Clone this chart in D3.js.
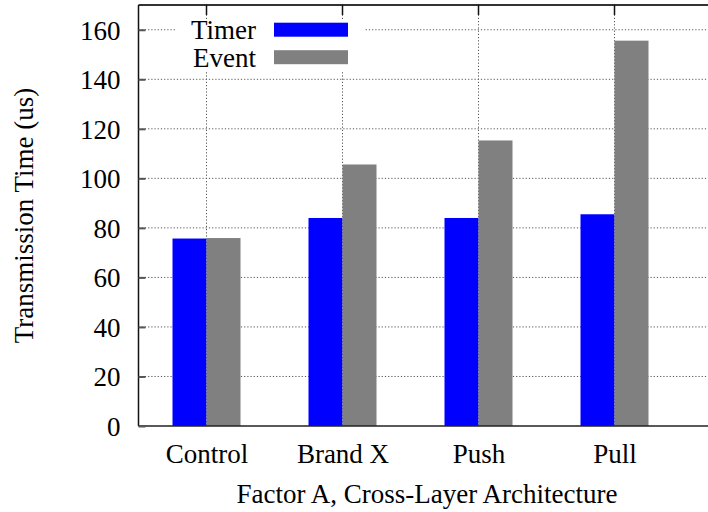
<!DOCTYPE html>
<html>
<head>
<meta charset="utf-8">
<script src="https://cdn.jsdelivr.net/npm/d3@7"></script>
<style>
  body { margin: 0; background: #fff; }
  text { font-family: "Liberation Serif", "Times New Roman", serif; fill: #000; }
</style>
</head>
<body>
<svg id="chart" width="708" height="512"></svg>
<script>
// chart data
var categories = ["Control", "Brand X", "Push", "Pull"];
var seriesNames = ["Timer", "Event"];
var timerValues = [75.7, 84.0, 84.0, 85.5];
var eventValues = [75.9, 105.6, 115.3, 155.6];
var yTicks = [0, 20, 40, 60, 80, 100, 120, 140, 160];
var colors = ["#0000ff", "#808080"];

var svg = d3.select("#chart");
var plotLeft = 138.5, plotTop = 5, plotBottom = 426, plotRight = 716.5;

// x is the category index; gnuplot-style range that runs past the right edge
var x = d3.scaleLinear().domain([-0.5, 3.75]).range([plotLeft, plotRight]);
var y = d3.scaleLinear().domain([0, 170]).range([plotBottom, plotTop]);
var barW = (x(1) - x(0)) * 0.25;

/** dotted grid */
var grid = svg.append("g");
grid.selectAll(".hg").data(yTicks.slice(1)).enter().append("line")
  .attr("x1", plotLeft).attr("x2", plotRight)
  .attr("y1", d => y(d)).attr("y2", d => y(d))
  .attr("stroke", "#555").attr("stroke-width", 1).attr("stroke-dasharray", "1.2,2");
grid.selectAll(".vg").data(categories).enter().append("line")
  .attr("x1", (d, i) => x(i)).attr("x2", (d, i) => x(i))
  .attr("y1", plotTop).attr("y2", plotBottom)
  .attr("stroke", "#555").attr("stroke-width", 1).attr("stroke-dasharray", "1.2,2");

/** bars */
var seriesData = [timerValues, eventValues];
seriesData.forEach(function(vals, s) {
  svg.append("g").selectAll("rect").data(vals).enter().append("rect")
    .attr("x", (d, i) => x(i) + (s === 0 ? -barW : 0))
    .attr("y", d => y(d))
    .attr("width", barW)
    .attr("height", d => plotBottom - y(d))
    .attr("fill", colors[s]);
});

/** axes frame */
svg.append("line").attr("x1", plotLeft).attr("x2", plotRight).attr("y1", plotTop).attr("y2", plotTop)
  .attr("stroke", "#333").attr("stroke-width", 2);
svg.append("line").attr("x1", plotLeft).attr("x2", plotRight).attr("y1", plotBottom).attr("y2", plotBottom)
  .attr("stroke", "#222").attr("stroke-width", 1.5);
svg.append("line").attr("x1", plotLeft).attr("x2", plotLeft).attr("y1", plotTop).attr("y2", plotBottom)
  .attr("stroke", "#111").attr("stroke-width", 1.5);

// y ticks (inward) and labels
var yAxis = d3.axisLeft(y).tickValues(yTicks).tickSizeInner(-7).tickSizeOuter(0).tickPadding(18);
var ya = svg.append("g").attr("transform", "translate(" + plotLeft + ",0)").call(yAxis);
ya.select(".domain").remove();
ya.selectAll(".tick line").attr("stroke", "#555").attr("stroke-width", 2);
ya.selectAll(".tick text").style("font-size", "27px").attr("dy", "0.35em")
  .style("font-family", "Liberation Serif");

// top ticks at categories
svg.append("g").selectAll("line").data(categories).enter().append("line")
  .attr("x1", (d, i) => x(i)).attr("x2", (d, i) => x(i))
  .attr("y1", plotTop).attr("y2", plotTop + 10)
  .attr("stroke", "#111").attr("stroke-width", 1.5);

// x labels
var xAxis = d3.axisBottom(x).tickValues(d3.range(categories.length))
  .tickFormat(i => categories[i]).tickSize(0).tickPadding(0);
var xa = svg.append("g").attr("transform", "translate(0," + plotBottom + ")").call(xAxis);
xa.select(".domain").remove();
xa.selectAll(".tick text").attr("y", 37).attr("dy", 0).style("font-size", "27px")
  .style("font-family", "Liberation Serif");

// axis titles
svg.append("text").attr("x", 427).attr("y", 503)
  .attr("text-anchor", "middle").style("font-size", "27px").text("Factor A, Cross-Layer Architecture");
svg.append("text").attr("transform", "translate(33," + ((plotTop + plotBottom) / 2) + ") rotate(-90)")
  .attr("text-anchor", "middle").style("font-size", "27px").text("Transmission Time (us)");

/** legend with white box */
var lg = svg.append("g");
lg.append("rect").attr("x", 175).attr("y", 20).attr("width", 189).attr("height", 52).attr("fill", "#fff");
seriesNames.forEach(function(name, i) {
  var cy = 29.7 + i * 27.5;
  lg.append("text").attr("x", 256).attr("y", cy + 9.5).attr("text-anchor", "end")
    .style("font-size", "27px").text(name);
  lg.append("rect").attr("x", 274).attr("y", cy - 7).attr("width", 74).attr("height", 14)
    .attr("fill", colors[i]);
});
</script>
</body>
</html>
